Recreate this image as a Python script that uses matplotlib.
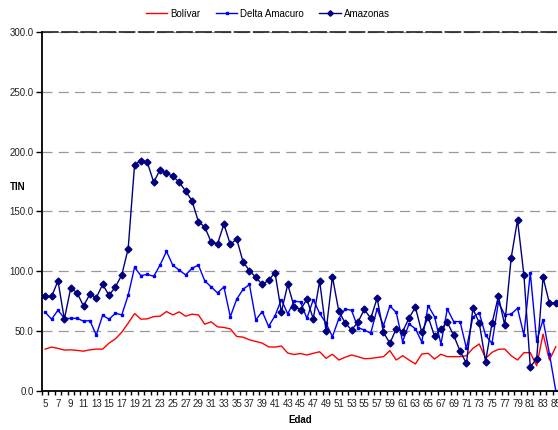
import numpy as np
import matplotlib.pyplot as plt

plt.rcParams['font.family'] = ['Liberation Sans', 'DejaVu Sans']

edad = list(range(5, 86))

bolivar = [35, 36.7, 35.6, 34.2, 34.4, 33.9, 33.3, 34.4, 35, 35,
           40, 43.6, 49.2, 56.7, 64.7, 60, 60.3, 62.2, 62.5, 66.4,
           63.6, 66.1, 62.5, 64.2, 63.6, 55.8, 57.8, 53.6, 53.1, 51.9,
           45.6, 45, 42.8, 41.4, 40, 36.9, 36.7, 37.6, 31.7, 30.5,
           31.3, 30.1, 31.5, 32.8, 27.3, 30.7, 25.9, 28.2, 30.1, 28.7,
           27, 27.2, 28, 28.7, 33.7, 25.9, 29.5, 25.9, 22.6, 30.9,
           31.5, 26.7, 30.7, 28.7, 28.7, 28.7, 29.5, 35.6, 39.3, 27.3,
           32.3, 34.8, 35.1, 29.5, 25.9, 32, 32, 21.1, 47.6, 25.9, 37]

delta = [65.8, 60, 67.5, 60.8, 60.6, 60.8, 58.3, 58.9, 46.7, 63.3,
         60, 65, 63.6, 80, 103.3, 96.4, 97.5, 95.8, 105.3, 116.7,
         105, 101, 97, 102.5, 105.3, 92, 87, 82, 87, 62,
         76.7, 85, 89, 59.4, 66.4, 54, 62.8, 76.3, 64.5, 75,
         74.5, 60.7, 76.3, 64.9, 56.5, 45.4, 60.4, 68.5, 67.4, 52.9,
         51, 48.2, 68.7, 54.6, 71, 65.7, 41.2, 56, 52, 41,
         71.3, 62.1, 39.3, 68.5, 58, 58, 35.6, 61.6, 65.4, 46.5,
         39.8, 74.1, 63.7, 64.3, 69.1, 46.8, 98.8, 42, 59.5, 31, 0]

amazonas = [79, 79, 92, 60, 86, 82, 71, 81, 78, 89,
            80, 87, 97, 119, 189, 192.5, 191, 174.5, 185, 182,
            179.5, 174.5, 167, 159, 141.5, 137, 124.5, 123, 139.5, 122.5,
            127, 108, 100.5, 95, 89, 92.5, 99, 66, 89, 70.5,
            68, 76.6, 60.4, 92, 50, 95.5, 66.6, 56.8, 51, 57.6,
            68.2, 60.7, 77.5, 49, 39.8, 52, 49.6, 61, 70, 49,
            62, 45.7, 51.5, 57.4, 46.5, 33.4, 23, 69, 57, 24.5,
            56.5, 79, 55, 111, 143, 97, 20.3, 26.7, 95, 73.3, 73.8]

fig = plt.figure(figsize=(5.58, 4.30), dpi=100)
ax = fig.add_axes([0.0753, 0.0907, 0.9265, 0.8349])

ax.plot(edad, bolivar, color='#FF0000', lw=1, label='Bolívar')
ax.plot(edad, delta, color='#0000FF', lw=1, marker='s', ms=2, label='Delta Amacuro')
ax.plot(edad, amazonas, color='#000080', lw=1, marker='D', ms=3.5, label='Amazonas')

ax.set_xlim(4.5, 85.5)
ax.set_ylim(0, 300)

# y axis
ax.set_yticks(np.arange(0, 301, 50))
ax.set_yticklabels(['%.1f' % v for v in np.arange(0, 301, 50)], fontsize=7, color='#222222')
ax.yaxis.grid(True, color='#999999', ls=(0, (8, 5)), lw=0.9)
ax.tick_params(axis='y', direction='out', length=4, width=1, pad=2)

# x axis: tick marks between categories, labels every other category
ax.set_xticks(np.arange(4.5, 86, 1))
ax.set_xticklabels([])
ax.tick_params(axis='x', which='major', direction='out', length=3, width=1)
ax.set_xticks(edad[::2], minor=True)
ax.set_xticklabels([str(e) for e in edad[::2]], minor=True, fontsize=7, color='#222222')
ax.tick_params(axis='x', which='minor', length=0, pad=6)

for s in ['top', 'right']:
    ax.spines[s].set_visible(False)
ax.spines['left'].set_linewidth(1.3)
ax.spines['bottom'].set_linewidth(1.3)
ax.axhline(300, color='#202020', ls=(0, (10, 1.5)), lw=1.2, clip_on=False)

ax.set_xlabel('Edad', fontsize=7, fontweight='bold', labelpad=4)
fig.text(0.018, 0.565, 'TIN', fontsize=7, fontweight='bold', va='center')

fig.legend(loc='center', bbox_to_anchor=(0.48, 0.968), ncol=3, frameon=False,
           fontsize=7, handlelength=2.2, handletextpad=0.3, columnspacing=1.6,
           markerscale=0.8)

fig.savefig('out.png', dpi=100)
